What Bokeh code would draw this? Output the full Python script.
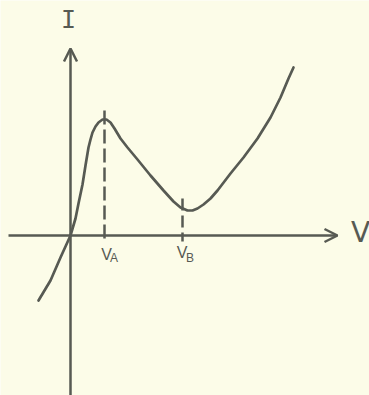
from bokeh.plotting import figure
from bokeh.models import Arrow, OpenHead
from bokeh.core.properties import value
from bokeh.embed import file_html
from bokeh.resources import INLINE

# I-V curve (arbitrary units, origin at axes crossing)
V = [-32, -26, -20, -10, 0, 5, 8, 12, 15, 18, 20, 22, 25, 28, 32, 36, 40, 44, 50, 57, 67, 80, 93, 103, 110, 117, 122, 127, 133, 140, 147, 160, 173, 187, 200, 210, 218, 223]
I = [-65, -55, -45, -22, 0, 17, 32, 51, 70, 88, 96, 103, 109, 113, 116, 116, 113, 107, 97, 88, 76, 60, 45, 34, 28, 25, 25, 27, 31, 37, 45, 62, 78, 97, 118, 138, 157, 168]

# axis extents
x_axis = [-62, 267]
y_axis = [-160, 187]

# marked voltages
V_A = 34
I_A = 116
V_B = 112
I_B = 25
mark_labels = ["V", "V"]
mark_subs = ["A", "B"]

BG = "#fcfce8"
INK = "#575a53"

p = figure(width=369, height=395, output_backend="svg", toolbar_location=None,
           x_range=(-70, 299), y_range=(-160, 235), min_border=0)
p.axis.visible = False
p.grid.visible = False
p.outline_line_color = None
p.background_fill_color = BG
p.border_fill_color = BG

# axes with arrows
p.add_layout(Arrow(end=OpenHead(size=13, line_color=INK, line_width=2.5),
                   x_start=x_axis[0], y_start=0, x_end=x_axis[1], y_end=0,
                   line_color=INK, line_width=2.5))
p.add_layout(Arrow(end=OpenHead(size=13, line_color=INK, line_width=2.5),
                   x_start=0, y_start=y_axis[0], x_end=0, y_end=y_axis[1],
                   line_color=INK, line_width=2.5))

# dashed markers
p.line([V_A, V_A], [I_A + 9, -6], line_color=INK, line_width=2.5, line_dash="14 5")
p.line([V_B, V_B], [I_B + 12, -6], line_color=INK, line_width=2.5, line_dash="12 5")

# curve
p.line(V, I, line_color=INK, line_width=2.7, line_join="round", line_cap="round")

# labels
p.text(x=[-2], y=[216], text=["I"], text_font=value("DejaVu Sans Mono"),
       text_font_size="25px", text_color=INK, text_align="center", text_baseline="middle")
p.text(x=[290], y=[3], text=["V"], text_font=value("DejaVu Sans"),
       text_font_size="28px", text_color=INK, text_align="center", text_baseline="middle")
p.text(x=[V_A + 2, V_B - 0.5], y=[-10, -8], text=mark_labels, text_font=value("Liberation Sans"),
       text_font_size="16px", text_color=INK, text_align="center", text_baseline="top")
p.text(x=[V_A + 9.5, V_B + 7.5], y=[-15, -15], text=mark_subs, text_font=value("Liberation Sans"),
       text_font_size="12px", text_color=INK, text_align="center", text_baseline="top")

html = file_html(p, INLINE)
html = html.replace("<body>", '<body style="background:%s">' % BG, 1)
open("out.html", "w").write(html)
